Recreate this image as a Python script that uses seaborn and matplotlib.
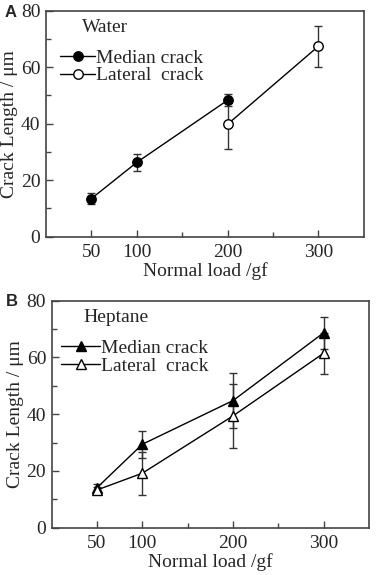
import numpy as np
import pandas as pd
import seaborn as sns
import matplotlib.pyplot as plt
from matplotlib.ticker import FixedLocator, MultipleLocator

# ==========================================
# Data
# ==========================================
# Panel A: water
water_median_load = [50, 100, 200]
water_median_len = [13.5, 26.3, 48.3]
water_median_err = [2.0, 3.1, 2.2]

water_lateral_load = [200, 300]
water_lateral_len = [39.8, 67.4]
water_lateral_err = [8.9, 7.3]

# Panel B: heptane
hept_load = [50, 100, 200, 300]
hept_median_len = [14.1, 29.4, 44.8, 68.7]
hept_median_err = [1.4, 4.8, 9.6, 5.7]
hept_lateral_len = [13.3, 19.2, 39.4, 61.5]
hept_lateral_err = [1.0, 7.6, 11.2, 7.2]

major_xticks = [50, 100, 200, 300]
minor_xticks = [150, 250]

# ==========================================
# Style
# ==========================================
sns.set_style("ticks")
plt.rcParams['font.family'] = ['Liberation Serif', 'DejaVu Serif']

spine_col = '#444444'
fs = 14

fig = plt.figure(figsize=(3.79, 5.75), dpi=100)
ax_a = fig.add_axes([0.1214, 0.5883, 0.8382, 0.3931])
ax_b = fig.add_axes([0.1364, 0.0823, 0.8372, 0.3947])


def draw_series(ax, x, y, err, marker, face, label):
    ax.errorbar(x, y, yerr=err, fmt='none', ecolor='#333333',
                elinewidth=1.0, capsize=3, capthick=1.0, zorder=2)
    sns.lineplot(x=x, y=y, ax=ax, color='black', linewidth=1.0,
                 marker=marker, markersize=6.8, markerfacecolor=face,
                 markeredgecolor='black', markeredgewidth=1.0,
                 label=label, zorder=3)


def style_axes(ax):
    ax.set_xlim(0, 350)
    ax.set_ylim(0, 80)
    ax.xaxis.set_major_locator(FixedLocator(major_xticks))
    ax.xaxis.set_minor_locator(FixedLocator(minor_xticks))
    ax.yaxis.set_major_locator(MultipleLocator(20))
    ax.yaxis.set_minor_locator(MultipleLocator(10))
    ax.tick_params(which='both', direction='in', color=spine_col,
                   labelsize=fs, width=1.0)
    ax.tick_params(which='major', length=5)
    ax.tick_params(which='minor', length=3.5)
    ax.tick_params(axis='y', pad=4)
    ax.tick_params(axis='x', pad=5)
    for s in ax.spines.values():
        s.set_visible(True)
        s.set_color(spine_col)
        s.set_linewidth(1.2)
    ax.set_xlabel('Normal load /gf', fontsize=fs, labelpad=1)
    ax.set_ylabel('Crack Length / μm', fontsize=fs, labelpad=2)


# Panel A
draw_series(ax_a, water_median_load, water_median_len, water_median_err,
            'o', 'black', 'Median crack')
draw_series(ax_a, water_lateral_load, water_lateral_len, water_lateral_err,
            'o', 'white', 'Lateral  crack')
style_axes(ax_a)
ax_a.text(0.113, 0.925, 'Water', transform=ax_a.transAxes,
          fontsize=fs, va='center', ha='left')
ax_a.legend(loc='upper left', bbox_to_anchor=(0.045, 0.83), frameon=False,
            fontsize=fs, handlelength=1.8, handletextpad=0.05,
            labelspacing=0.0, borderpad=0, borderaxespad=0)

# Panel B
draw_series(ax_b, hept_load, hept_median_len, hept_median_err,
            '^', 'black', 'Median crack')
draw_series(ax_b, hept_load, hept_lateral_len, hept_lateral_err,
            '^', 'white', 'Lateral  crack')
style_axes(ax_b)
ax_b.text(0.099, 0.928, 'Heptane', transform=ax_b.transAxes,
          fontsize=fs, va='center', ha='left')
ax_b.legend(loc='upper left', bbox_to_anchor=(0.03, 0.83), frameon=False,
            fontsize=fs, handlelength=2.0, handletextpad=0.05,
            labelspacing=0.0, borderpad=0, borderaxespad=0)

# panel letters
fig.text(0.029, 0.978, 'A', fontsize=12, fontweight='bold',
         family='Liberation Sans', va='center', ha='center')
fig.text(0.032, 0.475, 'B', fontsize=12, fontweight='bold',
         family='Liberation Sans', va='center', ha='center')

fig.savefig('out.png', dpi=100)
